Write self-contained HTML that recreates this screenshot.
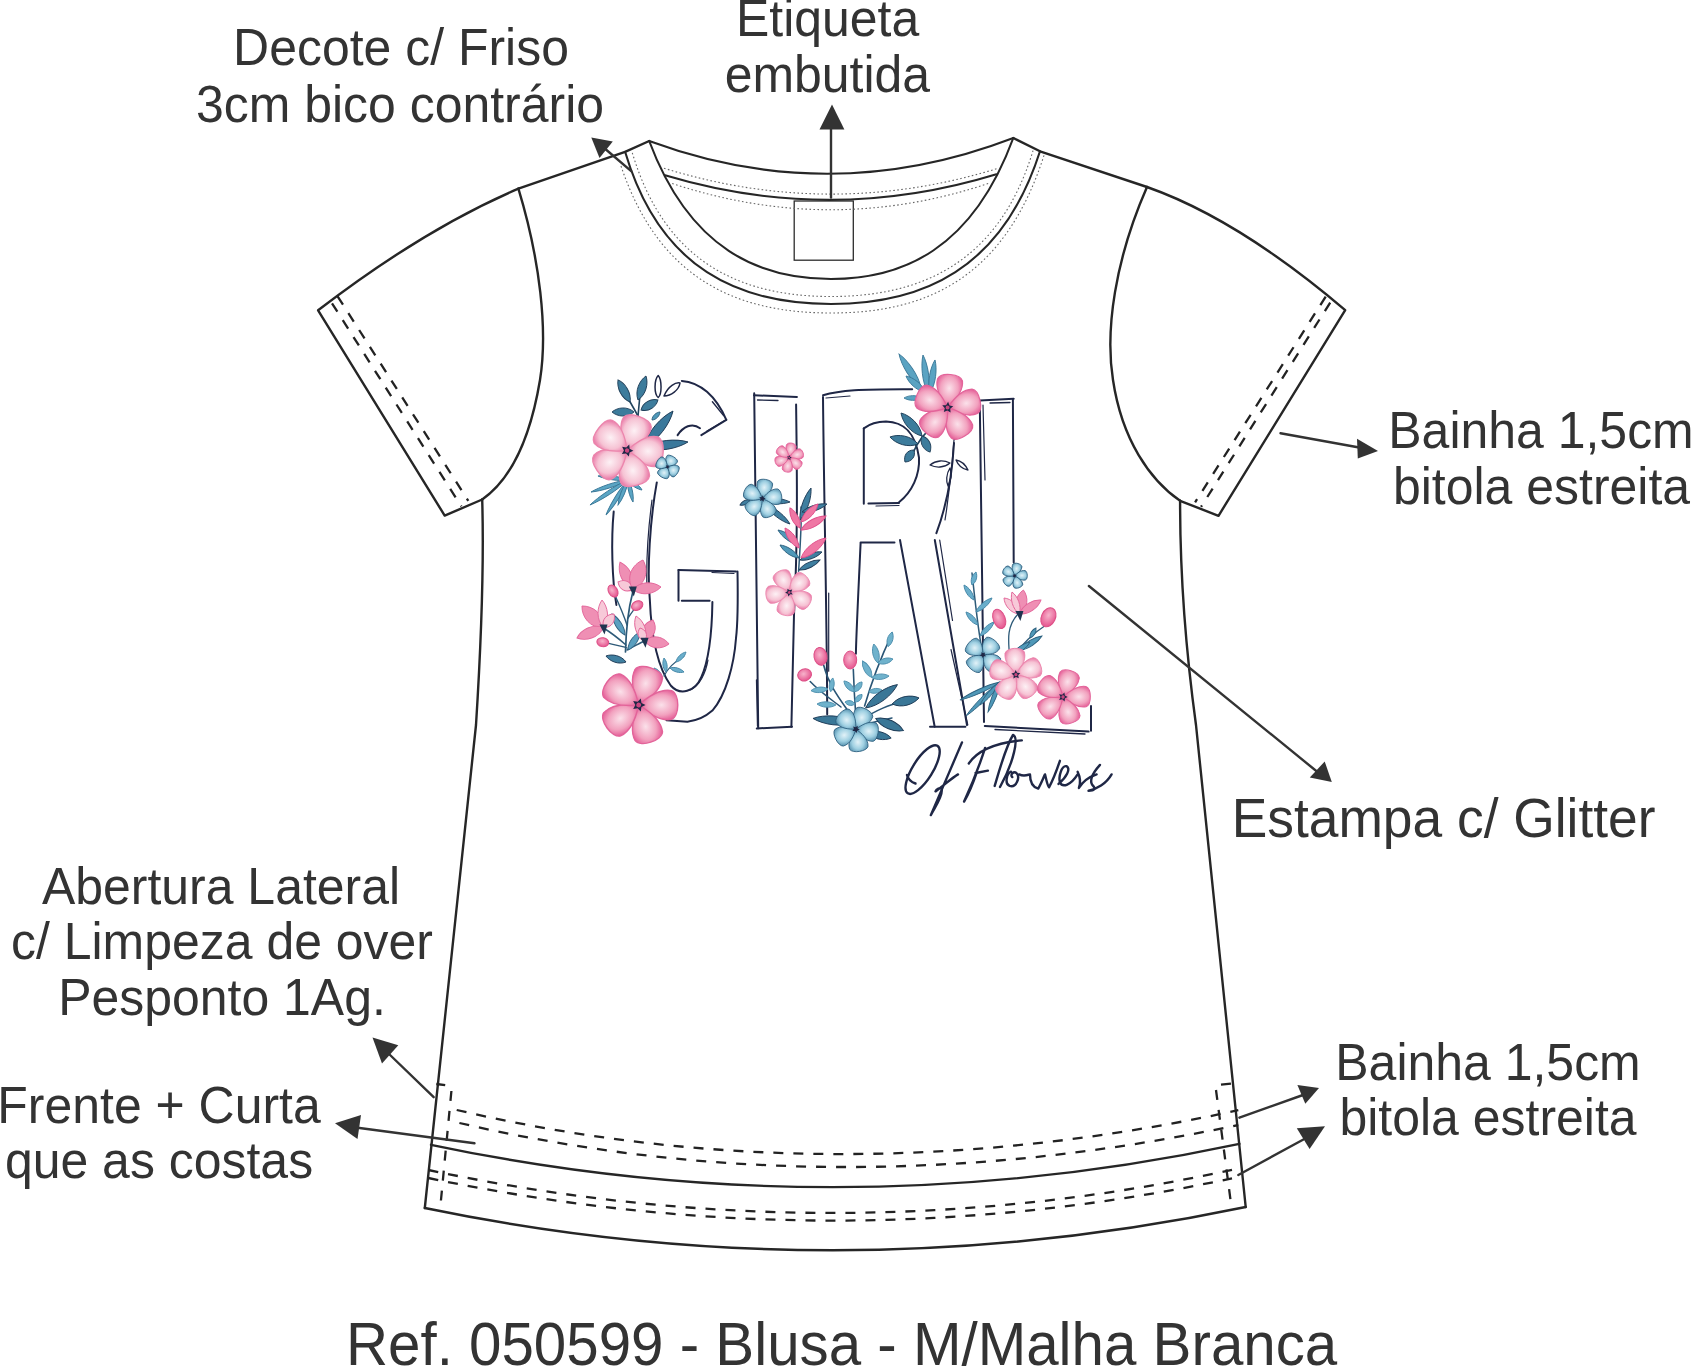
<!DOCTYPE html>
<html><head><meta charset="utf-8">
<style>
html,body{margin:0;padding:0;background:#fff;width:1692px;height:1366px;overflow:hidden}
svg{display:block}
.t{font-family:"Liberation Sans",sans-serif;font-size:50px;fill:#333}
.ln{fill:none;stroke:#262626;stroke-width:2.4;stroke-linecap:round;stroke-linejoin:round}
.dl{fill:none;stroke:#222;stroke-width:2.3;stroke-dasharray:10 10}
.dt{fill:none;stroke:#666;stroke-width:1.1;stroke-dasharray:1.6 2.4}
.ar{fill:#333;stroke:none}
.nv{fill:none;stroke:#1f2848;stroke-width:1.8;stroke-linecap:round}
</style></head>
<body>
<svg width="1692" height="1366" viewBox="0 0 1692 1366">
<!-- TEXT -->
<g class="t" text-anchor="middle">
<text transform="translate(401,65.3) scale(0.972,1)" style="font-size:51.4px">Decote c/ Friso</text>
<text transform="translate(400,121.5) scale(0.972,1)" style="font-size:51.4px">3cm bico contrário</text>
<text transform="translate(827.6,35.6) scale(0.972,1)" style="font-size:51.4px">Etiqueta</text>
<text transform="translate(827.4,91.9) scale(0.972,1)" style="font-size:51.4px">embutida</text>
<text transform="translate(1541,448.2) scale(0.972,1)" style="font-size:51.4px">Bainha 1,5cm</text>
<text transform="translate(1541.5,504.3) scale(0.972,1)" style="font-size:51.4px">bitola estreita</text>
<text transform="translate(221,903.5) scale(0.972,1)" style="font-size:51.4px">Abertura Lateral</text>
<text transform="translate(222,959.3) scale(0.972,1)" style="font-size:51.4px">c/ Limpeza de over</text>
<text transform="translate(222,1015) scale(0.972,1)" style="font-size:51.4px">Pesponto 1Ag.</text>
<text transform="translate(159,1122.6) scale(0.972,1)" style="font-size:51.4px">Frente + Curta</text>
<text transform="translate(159,1178.3) scale(0.972,1)" style="font-size:51.4px">que as costas</text>
<text transform="translate(1488,1079.5) scale(0.972,1)" style="font-size:51.4px">Bainha 1,5cm</text>
<text transform="translate(1488,1135.2) scale(0.972,1)" style="font-size:51.4px">bitola estreita</text>
<text transform="translate(1443.6,836.9) scale(0.975,1)" style="font-size:54.7px">Estampa c/ Glitter</text>
<text transform="translate(841.6,1364.6) scale(0.948,1)" style="font-size:61.5px">Ref. 050599 - Blusa - M/Malha Branca</text>
</g>

<!-- SHIRT OUTLINE -->
<g class="ln">
<!-- shoulders -->
<path d="M518.4,188.7 L625.1,151.8 L649.2,141"/>
<path d="M1013.3,138 L1040,151.3 L1147,187"/>
<!-- left sleeve -->
<path d="M518.4,188.7 Q424,229 318.1,310.3 L444.7,515.6 L482.2,499.5"/>
<path d="M518.4,188.7 C540,260 548,330 540,380 C530,440 510,480 482.2,499.5"/>
<!-- right sleeve -->
<path d="M1147,187 Q1238,219 1345.2,310.1 L1218.5,515.8 L1180.1,500.8"/>
<path d="M1147,187 C1115,260 1105,330 1113,380 C1122,440 1150,480 1180.1,500.8"/>
<!-- body sides -->
<path d="M482.2,499.5 C484,560 482,630 476,725 L424.8,1208"/>
<path d="M1180.1,500.8 C1180,560 1183,630 1196,725 L1245.7,1207"/>
<!-- hems -->
<path d="M431,1144.8 Q835,1230 1239.4,1143.8"/>
<path d="M424.8,1208 Q835,1293 1245.7,1207"/>
</g>
<!-- neckline -->
<g class="ln" style="stroke-width:2.1">
<path d="M649.2,141 Q831,208 1013.3,138"/>
<path d="M649.2,141 C690,250 760,279 831,279 C902,279 972,250 1013.3,138"/>
<path d="M625.1,151.8 C660,270 740,304 831,304 C922,304 1002,270 1040,151.3"/>
<path d="M665,175.3 Q831,225 996.4,174.3"/>
</g>
<rect x="794.2" y="201" width="59.1" height="59.2" fill="none" stroke="#2c2c2c" stroke-width="1.3"/>

<!-- dotted neckline -->
<g class="dt">
<path d="M632.3,152.8 C666,266 745,296.5 831,296.5 C917,296.5 998,266 1033,150.7"/>
<path d="M621,166 C660,282 740,313 831,313 C922,313 1004,282 1044.5,153.8"/>
<path d="M664,168.2 Q831,220 998.4,168.2"/>
<path d="M672.2,183.5 Q831,236 988.2,183.5"/>
</g>

<!-- dashed stitching -->
<g class="dl">
<path d="M332,303.3 L461.4,506.4"/>
<path d="M337.6,296.3 L468.3,500.8"/>
<path d="M1325.7,296.6 L1195.1,502.3"/>
<path d="M1330.2,302.6 L1201.1,506.8"/>
<path d="M456.7,1110 Q835,1198 1238.3,1110.2"/>
<path d="M459.4,1123 Q835,1210 1238.3,1125"/>
<path d="M428.4,1170 Q835,1256 1232,1169.8"/>
<path d="M428.4,1178 Q835,1263 1232,1178.3"/>
<path d="M451.4,1091 L440.8,1201.8"/>
<path d="M1216,1090 L1230.9,1202.8"/>
<path d="M436.3,1084 L445.2,1085.2"/>
<path d="M1221,1084.7 L1232,1083.6"/>
</g>

<!-- ARROWS -->
<g class="ln" style="stroke:#333;stroke-width:2.4">
<path d="M631.2,171.2 L603,147"/>
<path d="M831,197.5 L831,126"/>
<path d="M1280.5,433.2 L1362,448"/>
<path d="M1088.9,586 L1320,774"/>
<path d="M433.7,1097.2 L388,1053"/>
<path d="M474.5,1143.3 L352,1127"/>
<path d="M1239.4,1117.7 L1303,1095"/>
<path d="M1238.3,1175 L1308,1137"/>
</g>
<g class="ar">
<polygon points="591.3,137.4 612.8,141.5 599.5,157.9"/>
<polygon points="832,104.5 819.5,129.5 844.4,129.5"/>
<polygon points="1378,451 1357,438.7 1357.8,458.6"/>
<polygon points="1331.8,782 1309.8,777.4 1324.7,761.5"/>
<polygon points="372.5,1037.6 398.3,1045.2 382,1063.4"/>
<polygon points="335,1123.2 361,1115 357.5,1139"/>
<polygon points="1319,1087.9 1297.4,1085.1 1305.3,1103.8"/>
<polygon points="1325,1126.2 1296.8,1128.3 1309.6,1149"/>
</g>

<!-- GRAPHIC -->
<g id="graphic">
<defs>
<radialGradient id="gp" cx="0.5" cy="0.42" r="0.62"><stop offset="0" stop-color="#fbe1ea"/><stop offset="0.55" stop-color="#f2a2bf"/><stop offset="1" stop-color="#df4388"/></radialGradient>
<radialGradient id="gpl" cx="0.5" cy="0.42" r="0.62"><stop offset="0" stop-color="#fdf1f5"/><stop offset="0.55" stop-color="#f6c3d4"/><stop offset="1" stop-color="#e45893"/></radialGradient>
<radialGradient id="gb" cx="0.5" cy="0.42" r="0.62"><stop offset="0" stop-color="#e2f2f8"/><stop offset="0.5" stop-color="#9fd0e2"/><stop offset="1" stop-color="#3f7d9e"/></radialGradient>
<radialGradient id="gbud" cx="45%" cy="40%" r="65%"><stop offset="0" stop-color="#f7b3cb"/><stop offset="1" stop-color="#e44d8a"/></radialGradient>
</defs>
<path d="M681.8,380.9 C700,382 716,396 726.3,419.8" fill="none" stroke="#1f2746" stroke-width="2.0" stroke-linecap="round" stroke-linejoin="round"/>
<path d="M712.4,401.7 L723.6,415.6" fill="none" stroke="#1f2746" stroke-width="1.4" stroke-linecap="round" stroke-linejoin="round"/>
<path d="M726.3,419.8 L701.3,435.1" fill="none" stroke="#1f2746" stroke-width="2.0" stroke-linecap="round" stroke-linejoin="round"/>
<path d="M707,431 L724,421" fill="none" stroke="#1f2746" stroke-width="1.2" stroke-linecap="round" stroke-linejoin="round"/>
<path d="M677.6,435.1 C683,427 692,422 700,428.2" fill="none" stroke="#1f2746" stroke-width="2.0" stroke-linecap="round" stroke-linejoin="round"/>
<path d="M658.2,375.5 C654,380 654,394 658.2,397.5 C662,394 662,380 658.2,375.5Z" fill="none" stroke="#1f2746" stroke-width="1.5" stroke-linecap="round" stroke-linejoin="round"/>
<path d="M664,396 C668,386 676,382 680,383 C679,390 671,396 664,396Z" fill="none" stroke="#1f2746" stroke-width="1.5" stroke-linecap="round" stroke-linejoin="round"/>
<path d="M613.7,511.6 C611,540 612,580 616.4,604.9" fill="none" stroke="#1f2746" stroke-width="2.0" stroke-linecap="round" stroke-linejoin="round"/>
<path d="M656.8,482.4 C650,520 647,570 649.8,599.3 C651,630 656,665 670.7,685.5 C680,696 695,692 701.3,677.2 C709,660 712,630 712.4,602" fill="none" stroke="#1f2746" stroke-width="2.0" stroke-linecap="round" stroke-linejoin="round"/>
<path d="M652,500 C648,530 646,560 647,590" fill="none" stroke="#1f2746" stroke-width="1.2" stroke-linecap="round" stroke-linejoin="round"/>
<path d="M690,690 C700,686 706,672 708,660" fill="none" stroke="#1f2746" stroke-width="1.2" stroke-linecap="round" stroke-linejoin="round"/>
<path d="M681.8,600.7 L709.6,600.7" fill="none" stroke="#1f2746" stroke-width="2.0" stroke-linecap="round" stroke-linejoin="round"/>
<path d="M678.5,570 L678.5,600.7" fill="none" stroke="#1f2746" stroke-width="2.0" stroke-linecap="round" stroke-linejoin="round"/>
<path d="M678.5,570 L736,571.5" fill="none" stroke="#1f2746" stroke-width="2.0" stroke-linecap="round" stroke-linejoin="round"/>
<path d="M712,572.5 L734,573.5" fill="none" stroke="#1f2746" stroke-width="1.2" stroke-linecap="round" stroke-linejoin="round"/>
<path d="M737.5,571.5 C738,600 737,630 736,638.2 C734,665 726,695 712.4,710.6 C704,718 695,721 687.4,721.7 L666.5,720.3" fill="none" stroke="#1f2746" stroke-width="2.0" stroke-linecap="round" stroke-linejoin="round"/>
<path d="M754.2,393.2 C755,480 757,600 758.2,728.3" fill="none" stroke="#1f2746" stroke-width="2.0" stroke-linecap="round" stroke-linejoin="round"/>
<path d="M756.5,680 L757.5,726" fill="none" stroke="#1f2746" stroke-width="1.3" stroke-linecap="round" stroke-linejoin="round"/>
<path d="M754,395.3 L796.9,396.9" fill="none" stroke="#1f2746" stroke-width="2.0" stroke-linecap="round" stroke-linejoin="round"/>
<path d="M757.5,400 L778,400.5" fill="none" stroke="#1f2746" stroke-width="1.3" stroke-linecap="round" stroke-linejoin="round"/>
<path d="M796.1,404.6 C797,470 798,540 794,614.7 L791.4,726.8" fill="none" stroke="#1f2746" stroke-width="2.0" stroke-linecap="round" stroke-linejoin="round"/>
<path d="M756.8,728.4 L792,726.8" fill="none" stroke="#1f2746" stroke-width="2.0" stroke-linecap="round" stroke-linejoin="round"/>
<path d="M823,395.3 C840,390 860,389 912.2,389.2" fill="none" stroke="#1f2746" stroke-width="2.0" stroke-linecap="round" stroke-linejoin="round"/>
<path d="M826,398 L850,396" fill="none" stroke="#1f2746" stroke-width="1.2" stroke-linecap="round" stroke-linejoin="round"/>
<path d="M823,397 C824,500 827,620 827.2,714.3" fill="none" stroke="#1f2746" stroke-width="2.0" stroke-linecap="round" stroke-linejoin="round"/>
<path d="M828.7,593 L828.7,671.2" fill="none" stroke="#1f2746" stroke-width="1.2" stroke-linecap="round" stroke-linejoin="round"/>
<path d="M954,443 C952,480 945,510 936.4,533.2" fill="none" stroke="#1f2746" stroke-width="2.0" stroke-linecap="round" stroke-linejoin="round"/>
<path d="M863.8,428.4 L863.8,503.7" fill="none" stroke="#1f2746" stroke-width="2.0" stroke-linecap="round" stroke-linejoin="round"/>
<path d="M863.8,428.4 C872,422 880,421.5 886,421.5 C902,422 915,430 919,457.6 C920,475 912,492 899,502.2" fill="none" stroke="#1f2746" stroke-width="2.0" stroke-linecap="round" stroke-linejoin="round"/>
<path d="M868.4,503.4 L899,503" fill="none" stroke="#1f2746" stroke-width="2.0" stroke-linecap="round" stroke-linejoin="round"/>
<path d="M876,506 L899,505.5" fill="none" stroke="#1f2746" stroke-width="1.2" stroke-linecap="round" stroke-linejoin="round"/>
<path d="M860.6,542.4 L894.5,542.4" fill="none" stroke="#1f2746" stroke-width="2.0" stroke-linecap="round" stroke-linejoin="round"/>
<path d="M860.6,543.2 C858,600 856,640 855.9,653.8" fill="none" stroke="#1f2746" stroke-width="2.0" stroke-linecap="round" stroke-linejoin="round"/>
<path d="M900,540 L934.7,726.8" fill="none" stroke="#1f2746" stroke-width="2.0" stroke-linecap="round" stroke-linejoin="round"/>
<path d="M934.8,540 L967,725" fill="none" stroke="#1f2746" stroke-width="2.0" stroke-linecap="round" stroke-linejoin="round"/>
<path d="M939.7,540 L952.5,620.5" fill="none" stroke="#1f2746" stroke-width="1.2" stroke-linecap="round" stroke-linejoin="round"/>
<path d="M951,649.5 L967.8,725" fill="none" stroke="#1f2746" stroke-width="1.2" stroke-linecap="round" stroke-linejoin="round"/>
<path d="M930,726.8 L965.4,726.8" fill="none" stroke="#1f2746" stroke-width="2.0" stroke-linecap="round" stroke-linejoin="round"/>
<path d="M979.8,401.2 C981,520 983,640 984,722" fill="none" stroke="#1f2746" stroke-width="2.0" stroke-linecap="round" stroke-linejoin="round"/>
<path d="M983,405 L985,480" fill="none" stroke="#1f2746" stroke-width="1.2" stroke-linecap="round" stroke-linejoin="round"/>
<path d="M979.8,400.4 L1013.7,398.8" fill="none" stroke="#1f2746" stroke-width="2.0" stroke-linecap="round" stroke-linejoin="round"/>
<path d="M990,403 L1010,402.5" fill="none" stroke="#1f2746" stroke-width="1.3" stroke-linecap="round" stroke-linejoin="round"/>
<path d="M1012.9,399.6 C1013.5,460 1013.7,520 1013.7,562.5" fill="none" stroke="#1f2746" stroke-width="2.0" stroke-linecap="round" stroke-linejoin="round"/>
<path d="M984.8,726 L1088.6,731.6" fill="none" stroke="#1f2746" stroke-width="2.0" stroke-linecap="round" stroke-linejoin="round"/>
<path d="M995,729.5 L1085,734" fill="none" stroke="#1f2746" stroke-width="1.3" stroke-linecap="round" stroke-linejoin="round"/>
<path d="M1091,705.9 L1091,730.8" fill="none" stroke="#1f2746" stroke-width="2.0" stroke-linecap="round" stroke-linejoin="round"/>
<g fill="none" stroke="#1f2746" stroke-width="2.4" stroke-linecap="round" stroke-linejoin="round">
<ellipse cx="922.6" cy="769.6" rx="28" ry="10" transform="rotate(-58 922.6 769.6)"/>
<path d="M915.5,783.5 C911,782 908,779 907,775"/>
<path d="M 962.0,742.4 C 952.5,764.9 938.9,796.1 930.8,815.1 C 934.9,807.0 943.0,796.1 941.7,789.3 C 940.3,786.6 936.2,789.3 935.5,791.4 C 944.4,785.2 951.2,778.4 958.0,774.4"/>
<path d="M 968.8,763.5 C 977.0,751.3 993.3,743.1 1021.8,740.4 M 985.1,747.9 C 979.7,764.9 971.6,785.2 964.1,801.6 C 967.5,796.1 972.9,783.9 977.0,771.7 M 975.6,773.0 L 987.9,770.6"/>
<path d="M 994.7,785.9 C 1000,768 1006,746 1013,735 C 1019,737 1014,762 1000,787"/>
<path d="M 1011.0,771.7 C 1006.9,773.0 1004.2,783.9 1009.6,785.9 C 1016.4,788.0 1020.5,777.1 1016.4,773.0 C 1013.7,771.0 1009.6,774.4 1012.3,777.1"/>
<path d="M 1019.1,774.4 C 1024.6,777.1 1028.6,774.4 1030.0,774.4 C 1030.0,779.8 1031.4,786.6 1038.2,788.6 C 1040.9,783.9 1043.6,777.1 1045.0,774.4 C 1046.3,779.8 1047.7,786.6 1049.0,787.3 C 1053.1,779.8 1057.2,768.9 1059.9,760.8"/>
<path d="M 1058.5,783.9 C 1066.7,777.1 1070.8,768.9 1066.7,766.2 C 1061.3,764.9 1058.5,777.1 1059.9,782.5 C 1062.6,788.0 1070.8,785.2 1077.6,774.4"/>
<path d="M 1077.6,771.7 C 1080.3,777.1 1080.3,783.9 1078.9,788.0 C 1083.0,781.2 1088.5,777.1 1096.6,774.4"/>
<path d="M 1100.0,764.9 C 1093.9,771.7 1088.5,779.8 1092.5,785.2 C 1096.6,789.3 1093.9,790.7 1088.5,790.7 C 1096.6,789.3 1106.1,783.9 1111.6,774.4"/>
</g>
<path d="M638,416 C632,405 626,395 621,386" fill="none" stroke="#22445e" stroke-width="1.6" stroke-linecap="round"/>
<path d="M638,416 C639,405 640,395 641,384" fill="none" stroke="#22445e" stroke-width="1.6" stroke-linecap="round"/>
<path transform="translate(630.0,402.0) rotate(-118.6)" d="M0,0 C7.5,-6.0 18.8,-4.8 25.1,0 C18.8,4.8 7.5,6.0 0,0Z" fill="#3d7c9c" stroke="#20405a" stroke-width="0.9"/>
<path transform="translate(638.0,400.0) rotate(-71.6)" d="M0,0 C7.6,-6.0 19.0,-4.8 25.3,0 C19.0,4.8 7.6,6.0 0,0Z" fill="#3d7c9c" stroke="#20405a" stroke-width="0.9"/>
<path transform="translate(634.0,412.0) rotate(180.0)" d="M0,0 C6.6,-6.0 16.5,-4.8 22.0,0 C16.5,4.8 6.6,6.0 0,0Z" fill="#3d7c9c" stroke="#20405a" stroke-width="0.9"/>
<path transform="translate(641.0,410.0) rotate(-30.5)" d="M0,0 C5.9,-6.0 14.8,-4.8 19.7,0 C14.8,4.8 5.9,6.0 0,0Z" fill="#3d7c9c" stroke="#20405a" stroke-width="0.9"/>
<path transform="translate(644.0,447.0) rotate(-51.1)" d="M0,0 C13.9,-7.0 34.7,-5.6 46.2,0 C34.7,5.6 13.9,7.0 0,0Z" fill="#3a789b" stroke="#1f3b56" stroke-width="0.9"/>
<path transform="translate(644.0,448.0) rotate(-7.8)" d="M0,0 C13.3,-6.5 33.3,-5.2 44.4,0 C33.3,5.2 13.3,6.5 0,0Z" fill="#3a789b" stroke="#1f3b56" stroke-width="0.9"/>
<path transform="translate(652.0,420.0) rotate(-45.0)" d="M0,0 C3.4,-3.0 8.5,-2.4 11.3,0 C8.5,2.4 3.4,3.0 0,0Z" fill="#4f98b8" stroke="#2d617f" stroke-width="0.9"/>
<path transform="translate(628.0,480.0) rotate(162.0)" d="M0,0 C11.7,-2.8 29.2,-2.2 38.9,0 C29.2,2.2 11.7,2.8 0,0Z" fill="#5aa5c4" stroke="#3a7898" stroke-width="0.9"/>
<path transform="translate(628.0,480.0) rotate(146.7)" d="M0,0 C13.6,-2.8 34.1,-2.2 45.5,0 C34.1,2.2 13.6,2.8 0,0Z" fill="#5aa5c4" stroke="#3a7898" stroke-width="0.9"/>
<path transform="translate(628.0,480.0) rotate(122.2)" d="M0,0 C12.4,-2.8 31.0,-2.2 41.3,0 C31.0,2.2 12.4,2.8 0,0Z" fill="#5aa5c4" stroke="#3a7898" stroke-width="0.9"/>
<path transform="translate(628.0,480.0) rotate(111.8)" d="M0,0 C8.1,-2.8 20.2,-2.2 26.9,0 C20.2,2.2 8.1,2.8 0,0Z" fill="#5aa5c4" stroke="#3a7898" stroke-width="0.9"/>
<path transform="translate(628.0,480.0) rotate(77.2)" d="M0,0 C6.8,-2.8 16.9,-2.2 22.6,0 C16.9,2.2 6.8,2.8 0,0Z" fill="#5aa5c4" stroke="#3a7898" stroke-width="0.9"/>
<path transform="translate(628.0,480.0) rotate(35.5)" d="M0,0 C5.2,-2.8 12.9,-2.2 17.2,0 C12.9,2.2 5.2,2.8 0,0Z" fill="#5aa5c4" stroke="#3a7898" stroke-width="0.9"/>
<path transform="translate(628.0,480.0) rotate(-172.4)" d="M0,0 C9.1,-2.8 22.7,-2.2 30.3,0 C22.7,2.2 9.1,2.8 0,0Z" fill="#5aa5c4" stroke="#3a7898" stroke-width="0.9"/>
<g transform="translate(627.1,450.5) rotate(20)">
<path d="M0,0 C-7.3,-7.4 -17.1,-18.5 -14.7,-30.3 C-11.4,-38.1 11.4,-38.1 14.7,-30.3 C17.1,-18.5 7.3,-7.4 0,0Z" transform="rotate(0.0)" fill="url(#gpl)" stroke="#ec86ad" stroke-width="1.3"/>
<path d="M0,0 C-7.3,-7.4 -17.1,-18.5 -14.7,-30.3 C-11.4,-38.1 11.4,-38.1 14.7,-30.3 C17.1,-18.5 7.3,-7.4 0,0Z" transform="rotate(72.0)" fill="url(#gpl)" stroke="#ec86ad" stroke-width="1.3"/>
<path d="M0,0 C-7.3,-7.4 -17.1,-18.5 -14.7,-30.3 C-11.4,-38.1 11.4,-38.1 14.7,-30.3 C17.1,-18.5 7.3,-7.4 0,0Z" transform="rotate(144.0)" fill="url(#gpl)" stroke="#ec86ad" stroke-width="1.3"/>
<path d="M0,0 C-7.3,-7.4 -17.1,-18.5 -14.7,-30.3 C-11.4,-38.1 11.4,-38.1 14.7,-30.3 C17.1,-18.5 7.3,-7.4 0,0Z" transform="rotate(216.0)" fill="url(#gpl)" stroke="#ec86ad" stroke-width="1.3"/>
<path d="M0,0 C-7.3,-7.4 -17.1,-18.5 -14.7,-30.3 C-11.4,-38.1 11.4,-38.1 14.7,-30.3 C17.1,-18.5 7.3,-7.4 0,0Z" transform="rotate(288.0)" fill="url(#gpl)" stroke="#ec86ad" stroke-width="1.3"/>
<polygon points="0.0,-6.3 1.8,-2.5 6.0,-1.9 3.0,1.0 3.7,5.1 0.0,3.1 -3.7,5.1 -3.0,1.0 -6.0,-1.9 -1.8,-2.5" fill="#1f2746"/>
<circle r="2.2" fill="#c9457f"/>
</g>
<g transform="translate(667.5,466.9) rotate(30)">
<path d="M0,0 C-3.0,-2.4 -6.9,-6.0 -5.9,-9.8 C-4.6,-12.4 4.6,-12.4 5.9,-9.8 C6.9,-6.0 3.0,-2.4 0,0Z" transform="rotate(0.0)" fill="url(#gb)" stroke="#2c5e7e" stroke-width="0.8"/>
<path d="M0,0 C-3.0,-2.4 -6.9,-6.0 -5.9,-9.8 C-4.6,-12.4 4.6,-12.4 5.9,-9.8 C6.9,-6.0 3.0,-2.4 0,0Z" transform="rotate(90.0)" fill="url(#gb)" stroke="#2c5e7e" stroke-width="0.8"/>
<path d="M0,0 C-3.0,-2.4 -6.9,-6.0 -5.9,-9.8 C-4.6,-12.4 4.6,-12.4 5.9,-9.8 C6.9,-6.0 3.0,-2.4 0,0Z" transform="rotate(180.0)" fill="url(#gb)" stroke="#2c5e7e" stroke-width="0.8"/>
<path d="M0,0 C-3.0,-2.4 -6.9,-6.0 -5.9,-9.8 C-4.6,-12.4 4.6,-12.4 5.9,-9.8 C6.9,-6.0 3.0,-2.4 0,0Z" transform="rotate(270.0)" fill="url(#gb)" stroke="#2c5e7e" stroke-width="0.8"/>
<polygon points="0.0,-2.2 0.6,-0.9 2.1,-0.7 1.0,0.3 1.3,1.8 0.0,1.1 -1.3,1.8 -1.0,0.3 -2.1,-0.7 -0.6,-0.9" fill="#1f2746"/>
</g>
<path d="M625.5,652 C626,630 628,610 632.8,592" fill="none" stroke="#2d5a78" stroke-width="1.7" stroke-linecap="round"/>
<path d="M627,625 C622,610 616,598 613,591" fill="none" stroke="#2d5a78" stroke-width="1.4" stroke-linecap="round"/>
<path d="M628,618 C632,612 635,608 637.2,605.6" fill="none" stroke="#2d5a78" stroke-width="1.4" stroke-linecap="round"/>
<path d="M626,645 C618,638 610,632 603.5,628" fill="none" stroke="#2d5a78" stroke-width="1.5" stroke-linecap="round"/>
<path d="M627,648 C622,646 610,644 602.8,642.2" fill="none" stroke="#2d5a78" stroke-width="1.3" stroke-linecap="round"/>
<path d="M627,650 C635,646 640,643 644.5,641" fill="none" stroke="#2d5a78" stroke-width="1.5" stroke-linecap="round"/>
<path transform="translate(625.0,635.0) rotate(-121.8)" d="M0,0 C7.4,-4.5 18.5,-3.6 24.7,0 C18.5,3.6 7.4,4.5 0,0Z" fill="#5a9fbf" stroke="#2d5f7e" stroke-width="0.9"/>
<path transform="translate(628.0,650.0) rotate(-56.3)" d="M0,0 C6.5,-4.5 16.2,-3.6 21.6,0 C16.2,3.6 6.5,4.5 0,0Z" fill="#5a9fbf" stroke="#2d5f7e" stroke-width="0.9"/>
<path transform="translate(626.0,662.0) rotate(-163.3)" d="M0,0 C6.3,-5.0 15.7,-4.0 20.9,0 C15.7,4.0 6.3,5.0 0,0Z" fill="#3f7fa0" stroke="#223f5a" stroke-width="0.9"/>
<path d="M664,676 C668,668 674,662 684,656" fill="none" stroke="#2d5a78" stroke-width="1.2" stroke-linecap="round"/>
<path transform="translate(666.0,672.0) rotate(-98.1)" d="M0,0 C4.2,-3.0 10.6,-2.4 14.1,0 C10.6,2.4 4.2,3.0 0,0Z" fill="#6aaecb" stroke="#4688a8" stroke-width="0.9"/>
<path transform="translate(670.0,668.0) rotate(15.9)" d="M0,0 C4.4,-3.0 10.9,-2.4 14.6,0 C10.9,2.4 4.4,3.0 0,0Z" fill="#6aaecb" stroke="#4688a8" stroke-width="0.9"/>
<path transform="translate(676.0,662.0) rotate(-45.0)" d="M0,0 C4.2,-3.0 10.6,-2.4 14.1,0 C10.6,2.4 4.2,3.0 0,0Z" fill="#6aaecb" stroke="#4688a8" stroke-width="0.9"/>
<path transform="translate(662.0,678.0) rotate(-128.7)" d="M0,0 C3.8,-3.0 9.6,-2.4 12.8,0 C9.6,2.4 3.8,3.0 0,0Z" fill="#6aaecb" stroke="#4688a8" stroke-width="0.9"/>
<path transform="translate(632.8,589.5) rotate(-115.0)" d="M0,0 C9.1,-8.0 22.7,-6.4 30.3,0 C22.7,6.4 9.1,8.0 0,0Z" fill="#ef8fb4" stroke="#e3669a" stroke-width="0.9"/>
<path transform="translate(632.8,589.5) rotate(-153.1)" d="M0,0 C5.0,-7.0 12.4,-5.6 16.6,0 C12.4,5.6 5.0,7.0 0,0Z" fill="#f7c9d8" stroke="#e3669a" stroke-width="0.9"/>
<path transform="translate(632.8,589.5) rotate(-70.9)" d="M0,0 C9.4,-11.0 23.4,-8.8 31.2,0 C23.4,8.8 9.4,11.0 0,0Z" fill="#ef8fb4" stroke="#e3669a" stroke-width="0.9"/>
<path transform="translate(632.8,589.5) rotate(-5.1)" d="M0,0 C8.5,-8.0 21.2,-6.4 28.3,0 C21.2,6.4 8.5,8.0 0,0Z" fill="#ef8fb4" stroke="#e3669a" stroke-width="0.9"/>
<path d="M628.8,586.5 L636.8,586.5 L633.8,596.5Z" fill="#1f3550"/>
<path transform="translate(603.5,627.6) rotate(-134.9)" d="M0,0 C9.1,-10.0 22.9,-8.0 30.5,0 C22.9,8.0 9.1,10.0 0,0Z" fill="#ef8fb4" stroke="#e3669a" stroke-width="0.9"/>
<path transform="translate(603.5,627.6) rotate(-93.1)" d="M0,0 C8.3,-7.0 20.7,-5.6 27.6,0 C20.7,5.6 8.3,7.0 0,0Z" fill="#f7c9d8" stroke="#e3669a" stroke-width="0.9"/>
<path transform="translate(603.5,627.6) rotate(158.6)" d="M0,0 C8.5,-8.0 21.4,-6.4 28.5,0 C21.4,6.4 8.5,8.0 0,0Z" fill="#ef8fb4" stroke="#e3669a" stroke-width="0.9"/>
<path transform="translate(603.5,627.6) rotate(-52.3)" d="M0,0 C5.2,-7.0 12.9,-5.6 17.2,0 C12.9,5.6 5.2,7.0 0,0Z" fill="#f7c9d8" stroke="#e3669a" stroke-width="0.9"/>
<path d="M599.5,624.6 L607.5,624.6 L604.5,634.6Z" fill="#1f3550"/>
<path transform="translate(644.5,640.8) rotate(-67.8)" d="M0,0 C6.7,-9.0 16.9,-7.2 22.5,0 C16.9,7.2 6.7,9.0 0,0Z" fill="#ef8fb4" stroke="#e3669a" stroke-width="0.9"/>
<path transform="translate(644.5,640.8) rotate(-108.9)" d="M0,0 C7.9,-7.0 19.7,-5.6 26.2,0 C19.7,5.6 7.9,7.0 0,0Z" fill="#f7c9d8" stroke="#e3669a" stroke-width="0.9"/>
<path transform="translate(644.5,640.8) rotate(7.4)" d="M0,0 C7.4,-8.0 18.5,-6.4 24.7,0 C18.5,6.4 7.4,8.0 0,0Z" fill="#ef8fb4" stroke="#e3669a" stroke-width="0.9"/>
<path transform="translate(644.5,640.8) rotate(-109.4)" d="M0,0 C4.1,-6.0 10.2,-4.8 13.6,0 C10.2,4.8 4.1,6.0 0,0Z" fill="#f7c9d8" stroke="#e3669a" stroke-width="0.9"/>
<path d="M640.5,637.8 L648.5,637.8 L645.5,647.8Z" fill="#1f3550"/>
<ellipse cx="613" cy="591" rx="4.5" ry="6.5" transform="rotate(-30 613 591)" fill="url(#gbud)" stroke="#dd4f86" stroke-width="1"/>
<ellipse cx="637.2" cy="605.6" rx="6" ry="4.5" transform="rotate(-30 637.2 605.6)" fill="url(#gbud)" stroke="#dd4f86" stroke-width="1"/>
<ellipse cx="602.8" cy="642.2" rx="6" ry="4.5" transform="rotate(10 602.8 642.2)" fill="url(#gbud)" stroke="#dd4f86" stroke-width="1"/>
<g transform="translate(638.7,705.0) rotate(18)">
<path d="M0,0 C-7.2,-8.0 -16.8,-20.0 -14.4,-32.8 C-11.2,-41.2 11.2,-41.2 14.4,-32.8 C16.8,-20.0 7.2,-8.0 0,0Z" transform="rotate(0.0)" fill="url(#gp)" stroke="#e3649a" stroke-width="1.4"/>
<path d="M0,0 C-7.2,-8.0 -16.8,-20.0 -14.4,-32.8 C-11.2,-41.2 11.2,-41.2 14.4,-32.8 C16.8,-20.0 7.2,-8.0 0,0Z" transform="rotate(72.0)" fill="url(#gp)" stroke="#e3649a" stroke-width="1.4"/>
<path d="M0,0 C-7.2,-8.0 -16.8,-20.0 -14.4,-32.8 C-11.2,-41.2 11.2,-41.2 14.4,-32.8 C16.8,-20.0 7.2,-8.0 0,0Z" transform="rotate(144.0)" fill="url(#gp)" stroke="#e3649a" stroke-width="1.4"/>
<path d="M0,0 C-7.2,-8.0 -16.8,-20.0 -14.4,-32.8 C-11.2,-41.2 11.2,-41.2 14.4,-32.8 C16.8,-20.0 7.2,-8.0 0,0Z" transform="rotate(216.0)" fill="url(#gp)" stroke="#e3649a" stroke-width="1.4"/>
<path d="M0,0 C-7.2,-8.0 -16.8,-20.0 -14.4,-32.8 C-11.2,-41.2 11.2,-41.2 14.4,-32.8 C16.8,-20.0 7.2,-8.0 0,0Z" transform="rotate(288.0)" fill="url(#gp)" stroke="#e3649a" stroke-width="1.4"/>
<polygon points="0.0,-6.8 2.0,-2.8 6.5,-2.1 3.2,1.1 4.0,5.5 0.0,3.4 -4.0,5.5 -3.2,1.1 -6.5,-2.1 -2.0,-2.8" fill="#1f2746"/>
<circle r="2.4" fill="#c9457f"/>
</g>
<path d="M798.6,571.3 C800,550 802,520 801,506.9" fill="none" stroke="#2d5a78" stroke-width="1.5" stroke-linecap="round"/>
<path transform="translate(800.0,520.0) rotate(-71.0)" d="M0,0 C10.2,-4.5 25.4,-3.6 33.8,0 C25.4,3.6 10.2,4.5 0,0Z" fill="#3f7fa0" stroke="#223f5a" stroke-width="0.9"/>
<path transform="translate(802.0,512.0) rotate(-17.7)" d="M0,0 C7.9,-4.0 19.7,-3.2 26.2,0 C19.7,3.2 7.9,4.0 0,0Z" fill="#3f7fa0" stroke="#223f5a" stroke-width="0.9"/>
<path transform="translate(799.0,545.0) rotate(-144.5)" d="M0,0 C7.7,-4.0 19.4,-3.2 25.8,0 C19.4,3.2 7.7,4.0 0,0Z" fill="#4f98b8" stroke="#2d617f" stroke-width="0.9"/>
<path transform="translate(799.0,558.0) rotate(-145.6)" d="M0,0 C6.9,-4.0 17.3,-3.2 23.0,0 C17.3,3.2 6.9,4.0 0,0Z" fill="#4f98b8" stroke="#2d617f" stroke-width="0.9"/>
<path transform="translate(800.0,560.0) rotate(-20.0)" d="M0,0 C7.0,-4.0 17.6,-3.2 23.4,0 C17.6,3.2 7.0,4.0 0,0Z" fill="#3f7fa0" stroke="#223f5a" stroke-width="0.9"/>
<path transform="translate(799.0,570.0) rotate(-25.5)" d="M0,0 C7.0,-4.0 17.4,-3.2 23.3,0 C17.4,3.2 7.0,4.0 0,0Z" fill="#3f7fa0" stroke="#223f5a" stroke-width="0.9"/>
<path transform="translate(800.0,528.0) rotate(-116.6)" d="M0,0 C6.7,-5.0 16.8,-4.0 22.4,0 C16.8,4.0 6.7,5.0 0,0Z" fill="#ef77a4" stroke="#e0508b" stroke-width="0.9"/>
<path transform="translate(801.0,522.0) rotate(-46.6)" d="M0,0 C7.4,-5.0 18.6,-4.0 24.8,0 C18.6,4.0 7.4,5.0 0,0Z" fill="#ef77a4" stroke="#e0508b" stroke-width="0.9"/>
<path transform="translate(799.0,548.0) rotate(-125.0)" d="M0,0 C7.3,-5.0 18.3,-4.0 24.4,0 C18.3,4.0 7.3,5.0 0,0Z" fill="#ef77a4" stroke="#e0508b" stroke-width="0.9"/>
<path transform="translate(801.0,530.0) rotate(-29.2)" d="M0,0 C8.6,-5.5 21.5,-4.4 28.7,0 C21.5,4.4 8.6,5.5 0,0Z" fill="#ef77a4" stroke="#e0508b" stroke-width="0.9"/>
<path transform="translate(801.0,558.0) rotate(-38.7)" d="M0,0 C9.6,-6.0 24.0,-4.8 32.0,0 C24.0,4.8 9.6,6.0 0,0Z" fill="#ef77a4" stroke="#e0508b" stroke-width="0.9"/>
<path transform="translate(762.0,500.0) rotate(4.1)" d="M0,0 C8.4,-4.0 21.1,-3.2 28.1,0 C21.1,3.2 8.4,4.0 0,0Z" fill="#3f7fa0" stroke="#223f5a" stroke-width="0.9"/>
<path transform="translate(766.0,505.0) rotate(38.4)" d="M0,0 C9.2,-4.0 23.0,-3.2 30.6,0 C23.0,3.2 9.2,4.0 0,0Z" fill="#3f7fa0" stroke="#223f5a" stroke-width="0.9"/>
<path transform="translate(750.0,500.0) rotate(153.4)" d="M0,0 C3.4,-3.0 8.4,-2.4 11.2,0 C8.4,2.4 3.4,3.0 0,0Z" fill="#3f7fa0" stroke="#223f5a" stroke-width="0.9"/>
<g transform="translate(762.3,498.7) rotate(10)">
<path d="M0,0 C-3.8,-4.0 -8.8,-10.0 -7.6,-16.4 C-5.9,-20.6 5.9,-20.6 7.6,-16.4 C8.8,-10.0 3.8,-4.0 0,0Z" transform="rotate(0.0)" fill="url(#gb)" stroke="#2c5e7e" stroke-width="0.8"/>
<path d="M0,0 C-3.8,-4.0 -8.8,-10.0 -7.6,-16.4 C-5.9,-20.6 5.9,-20.6 7.6,-16.4 C8.8,-10.0 3.8,-4.0 0,0Z" transform="rotate(72.0)" fill="url(#gb)" stroke="#2c5e7e" stroke-width="0.8"/>
<path d="M0,0 C-3.8,-4.0 -8.8,-10.0 -7.6,-16.4 C-5.9,-20.6 5.9,-20.6 7.6,-16.4 C8.8,-10.0 3.8,-4.0 0,0Z" transform="rotate(144.0)" fill="url(#gb)" stroke="#2c5e7e" stroke-width="0.8"/>
<path d="M0,0 C-3.8,-4.0 -8.8,-10.0 -7.6,-16.4 C-5.9,-20.6 5.9,-20.6 7.6,-16.4 C8.8,-10.0 3.8,-4.0 0,0Z" transform="rotate(216.0)" fill="url(#gb)" stroke="#2c5e7e" stroke-width="0.8"/>
<path d="M0,0 C-3.8,-4.0 -8.8,-10.0 -7.6,-16.4 C-5.9,-20.6 5.9,-20.6 7.6,-16.4 C8.8,-10.0 3.8,-4.0 0,0Z" transform="rotate(288.0)" fill="url(#gb)" stroke="#2c5e7e" stroke-width="0.8"/>
<polygon points="0.0,-3.4 1.0,-1.4 3.2,-1.1 1.6,0.5 2.0,2.8 0.0,1.7 -2.0,2.8 -1.6,0.5 -3.2,-1.1 -1.0,-1.4" fill="#1f2746"/>
</g>
<g transform="translate(789.2,457.6) rotate(10)">
<path d="M0,0 C-2.4,-3.0 -5.7,-7.5 -4.9,-12.3 C-3.8,-15.5 3.8,-15.5 4.9,-12.3 C5.7,-7.5 2.4,-3.0 0,0Z" transform="rotate(0.0)" fill="url(#gp)" stroke="#e3649a" stroke-width="0.8"/>
<path d="M0,0 C-2.4,-3.0 -5.7,-7.5 -4.9,-12.3 C-3.8,-15.5 3.8,-15.5 4.9,-12.3 C5.7,-7.5 2.4,-3.0 0,0Z" transform="rotate(60.0)" fill="url(#gp)" stroke="#e3649a" stroke-width="0.8"/>
<path d="M0,0 C-2.4,-3.0 -5.7,-7.5 -4.9,-12.3 C-3.8,-15.5 3.8,-15.5 4.9,-12.3 C5.7,-7.5 2.4,-3.0 0,0Z" transform="rotate(120.0)" fill="url(#gp)" stroke="#e3649a" stroke-width="0.8"/>
<path d="M0,0 C-2.4,-3.0 -5.7,-7.5 -4.9,-12.3 C-3.8,-15.5 3.8,-15.5 4.9,-12.3 C5.7,-7.5 2.4,-3.0 0,0Z" transform="rotate(180.0)" fill="url(#gp)" stroke="#e3649a" stroke-width="0.8"/>
<path d="M0,0 C-2.4,-3.0 -5.7,-7.5 -4.9,-12.3 C-3.8,-15.5 3.8,-15.5 4.9,-12.3 C5.7,-7.5 2.4,-3.0 0,0Z" transform="rotate(240.0)" fill="url(#gp)" stroke="#e3649a" stroke-width="0.8"/>
<path d="M0,0 C-2.4,-3.0 -5.7,-7.5 -4.9,-12.3 C-3.8,-15.5 3.8,-15.5 4.9,-12.3 C5.7,-7.5 2.4,-3.0 0,0Z" transform="rotate(300.0)" fill="url(#gp)" stroke="#e3649a" stroke-width="0.8"/>
<polygon points="0.0,-2.6 0.7,-1.0 2.4,-0.8 1.2,0.4 1.5,2.1 0.0,1.3 -1.5,2.1 -1.2,0.4 -2.4,-0.8 -0.7,-1.0" fill="#1f2746"/>
<circle r="0.9" fill="#c9457f"/>
</g>
<g transform="translate(789.2,592.4) rotate(-25)">
<path d="M0,0 C-4.3,-4.8 -10.1,-12.0 -8.6,-19.7 C-6.7,-24.7 6.7,-24.7 8.6,-19.7 C10.1,-12.0 4.3,-4.8 0,0Z" transform="rotate(0.0)" fill="url(#gpl)" stroke="#ec86ad" stroke-width="0.8"/>
<path d="M0,0 C-4.3,-4.8 -10.1,-12.0 -8.6,-19.7 C-6.7,-24.7 6.7,-24.7 8.6,-19.7 C10.1,-12.0 4.3,-4.8 0,0Z" transform="rotate(72.0)" fill="url(#gpl)" stroke="#ec86ad" stroke-width="0.8"/>
<path d="M0,0 C-4.3,-4.8 -10.1,-12.0 -8.6,-19.7 C-6.7,-24.7 6.7,-24.7 8.6,-19.7 C10.1,-12.0 4.3,-4.8 0,0Z" transform="rotate(144.0)" fill="url(#gpl)" stroke="#ec86ad" stroke-width="0.8"/>
<path d="M0,0 C-4.3,-4.8 -10.1,-12.0 -8.6,-19.7 C-6.7,-24.7 6.7,-24.7 8.6,-19.7 C10.1,-12.0 4.3,-4.8 0,0Z" transform="rotate(216.0)" fill="url(#gpl)" stroke="#ec86ad" stroke-width="0.8"/>
<path d="M0,0 C-4.3,-4.8 -10.1,-12.0 -8.6,-19.7 C-6.7,-24.7 6.7,-24.7 8.6,-19.7 C10.1,-12.0 4.3,-4.8 0,0Z" transform="rotate(288.0)" fill="url(#gpl)" stroke="#ec86ad" stroke-width="0.8"/>
<polygon points="0.0,-4.1 1.2,-1.7 3.9,-1.3 1.9,0.6 2.4,3.3 0.0,2.0 -2.4,3.3 -1.9,0.6 -3.9,-1.3 -1.2,-1.7" fill="#1f2746"/>
<circle r="1.4" fill="#c9457f"/>
</g>
<path d="M823.6,665 C830,690 845,705 855.9,722.5" fill="none" stroke="#2a5575" stroke-width="1.6" stroke-linecap="round"/>
<path d="M853.3,669.2 C854,690 855,705 855.9,717.4" fill="none" stroke="#2a5575" stroke-width="1.6" stroke-linecap="round"/>
<path d="M810.2,681.5 C820,692 832,700 841,707" fill="none" stroke="#2a5575" stroke-width="1.5" stroke-linecap="round"/>
<path d="M864.6,706 C872,680 882,655 892.2,633.3" fill="none" stroke="#2a5575" stroke-width="1.6" stroke-linecap="round"/>
<path d="M862,720 C875,710 890,705 906,700" fill="none" stroke="#2a5575" stroke-width="1.5" stroke-linecap="round"/>
<path d="M862,726 C872,722 882,720 892,718" fill="none" stroke="#2a5575" stroke-width="1.4" stroke-linecap="round"/>
<path transform="translate(888.0,646.6) rotate(-74.0)" d="M0,0 C4.6,-4.0 11.4,-3.2 15.2,0 C11.4,3.2 4.6,4.0 0,0Z" fill="#6fb2cc" stroke="#4d8fae" stroke-width="0.9"/>
<path transform="translate(877.9,663.0) rotate(-102.2)" d="M0,0 C5.8,-4.5 14.6,-3.6 19.4,0 C14.6,3.6 5.8,4.5 0,0Z" fill="#6fb2cc" stroke="#4d8fae" stroke-width="0.9"/>
<path transform="translate(877.9,663.0) rotate(-14.8)" d="M0,0 C4.7,-4.0 11.7,-3.2 15.6,0 C11.7,3.2 4.7,4.0 0,0Z" fill="#6fb2cc" stroke="#4d8fae" stroke-width="0.9"/>
<path transform="translate(871.7,677.4) rotate(-119.3)" d="M0,0 C5.6,-4.5 14.1,-3.6 18.8,0 C14.1,3.6 5.6,4.5 0,0Z" fill="#6fb2cc" stroke="#4d8fae" stroke-width="0.9"/>
<path transform="translate(871.7,677.4) rotate(-4.6)" d="M0,0 C5.2,-4.0 13.0,-3.2 17.4,0 C13.0,3.2 5.2,4.0 0,0Z" fill="#6fb2cc" stroke="#4d8fae" stroke-width="0.9"/>
<path transform="translate(868.7,691.7) rotate(-7.3)" d="M0,0 C4.0,-3.5 10.1,-2.8 13.4,0 C10.1,2.8 4.0,3.5 0,0Z" fill="#6fb2cc" stroke="#4d8fae" stroke-width="0.9"/>
<path transform="translate(854.3,691.7) rotate(-133.9)" d="M0,0 C4.5,-4.0 11.1,-3.2 14.9,0 C11.1,3.2 4.5,4.0 0,0Z" fill="#6fb2cc" stroke="#4d8fae" stroke-width="0.9"/>
<path transform="translate(854.3,691.7) rotate(-51.6)" d="M0,0 C3.7,-4.0 9.3,-3.2 12.4,0 C9.3,3.2 3.7,4.0 0,0Z" fill="#6fb2cc" stroke="#4d8fae" stroke-width="0.9"/>
<path transform="translate(854.8,704.0) rotate(-168.5)" d="M0,0 C3.0,-3.5 7.5,-2.8 10.0,0 C7.5,2.8 3.0,3.5 0,0Z" fill="#6fb2cc" stroke="#4d8fae" stroke-width="0.9"/>
<path transform="translate(855.0,702.0) rotate(-47.0)" d="M0,0 C3.1,-3.5 7.7,-2.8 10.3,0 C7.7,2.8 3.1,3.5 0,0Z" fill="#6fb2cc" stroke="#4d8fae" stroke-width="0.9"/>
<path transform="translate(830.7,691.7) rotate(-81.3)" d="M0,0 C4.2,-3.5 10.4,-2.8 13.9,0 C10.4,2.8 4.2,3.5 0,0Z" fill="#6fb2cc" stroke="#4d8fae" stroke-width="0.9"/>
<path transform="translate(828.0,689.0) rotate(174.3)" d="M0,0 C5.1,-4.0 12.8,-3.2 17.1,0 C12.8,3.2 5.1,4.0 0,0Z" fill="#6fb2cc" stroke="#4d8fae" stroke-width="0.9"/>
<path transform="translate(835.9,705.0) rotate(-177.0)" d="M0,0 C5.7,-4.0 14.2,-3.2 18.9,0 C14.2,3.2 5.7,4.0 0,0Z" fill="#6fb2cc" stroke="#4d8fae" stroke-width="0.9"/>
<path transform="translate(855.3,722.5) rotate(-174.5)" d="M0,0 C12.7,-6.5 31.9,-5.2 42.5,0 C31.9,5.2 12.7,6.5 0,0Z" fill="#3a7797" stroke="#1f3b56" stroke-width="0.9"/>
<path transform="translate(865.6,708.0) rotate(-36.3)" d="M0,0 C11.8,-6.5 29.6,-5.2 39.5,0 C29.6,5.2 11.8,6.5 0,0Z" fill="#3a7797" stroke="#1f3b56" stroke-width="0.9"/>
<path transform="translate(892.2,704.0) rotate(-12.8)" d="M0,0 C8.2,-6.5 20.6,-5.2 27.5,0 C20.6,5.2 8.2,6.5 0,0Z" fill="#3a7797" stroke="#1f3b56" stroke-width="0.9"/>
<path transform="translate(875.8,718.4) rotate(23.9)" d="M0,0 C9.1,-6.5 22.7,-5.2 30.3,0 C22.7,5.2 9.1,6.5 0,0Z" fill="#3a7797" stroke="#1f3b56" stroke-width="0.9"/>
<path transform="translate(868.0,733.0) rotate(12.2)" d="M0,0 C7.1,-5.5 17.8,-4.4 23.7,0 C17.8,4.4 7.1,5.5 0,0Z" fill="#3a7797" stroke="#1f3b56" stroke-width="0.9"/>
<g transform="translate(855.9,729.2) rotate(27)">
<path d="M0,0 C-4.7,-4.6 -10.9,-11.5 -9.3,-18.9 C-7.2,-23.7 7.2,-23.7 9.3,-18.9 C10.9,-11.5 4.7,-4.6 0,0Z" transform="rotate(0.0)" fill="url(#gb)" stroke="#2c5e7e" stroke-width="0.8"/>
<path d="M0,0 C-4.7,-4.6 -10.9,-11.5 -9.3,-18.9 C-7.2,-23.7 7.2,-23.7 9.3,-18.9 C10.9,-11.5 4.7,-4.6 0,0Z" transform="rotate(72.0)" fill="url(#gb)" stroke="#2c5e7e" stroke-width="0.8"/>
<path d="M0,0 C-4.7,-4.6 -10.9,-11.5 -9.3,-18.9 C-7.2,-23.7 7.2,-23.7 9.3,-18.9 C10.9,-11.5 4.7,-4.6 0,0Z" transform="rotate(144.0)" fill="url(#gb)" stroke="#2c5e7e" stroke-width="0.8"/>
<path d="M0,0 C-4.7,-4.6 -10.9,-11.5 -9.3,-18.9 C-7.2,-23.7 7.2,-23.7 9.3,-18.9 C10.9,-11.5 4.7,-4.6 0,0Z" transform="rotate(216.0)" fill="url(#gb)" stroke="#2c5e7e" stroke-width="0.8"/>
<path d="M0,0 C-4.7,-4.6 -10.9,-11.5 -9.3,-18.9 C-7.2,-23.7 7.2,-23.7 9.3,-18.9 C10.9,-11.5 4.7,-4.6 0,0Z" transform="rotate(288.0)" fill="url(#gb)" stroke="#2c5e7e" stroke-width="0.8"/>
<polygon points="0.0,-3.9 1.1,-1.6 3.7,-1.2 1.9,0.6 2.3,3.2 0.0,2.0 -2.3,3.2 -1.9,0.6 -3.7,-1.2 -1.1,-1.6" fill="#1f2746"/>
</g>
<ellipse cx="820.5" cy="656.4" rx="6.5" ry="9" transform="rotate(-10 820.5 656.4)" fill="url(#gbud)" stroke="#dd4f86" stroke-width="1"/>
<ellipse cx="850.2" cy="660" rx="6.5" ry="9" transform="rotate(0 850.2 660)" fill="url(#gbud)" stroke="#dd4f86" stroke-width="1"/>
<ellipse cx="804.6" cy="674.8" rx="7" ry="6" transform="rotate(-20 804.6 674.8)" fill="url(#gbud)" stroke="#dd4f86" stroke-width="1"/>
<path transform="translate(921.0,388.0) rotate(-122.9)" d="M0,0 C12.1,-5.0 30.4,-4.0 40.5,0 C30.4,4.0 12.1,5.0 0,0Z" fill="#5aa3c2" stroke="#3a7898" stroke-width="0.9"/>
<path transform="translate(925.0,392.0) rotate(-139.9)" d="M0,0 C7.5,-4.5 18.6,-3.6 24.8,0 C18.6,3.6 7.5,4.5 0,0Z" fill="#5aa3c2" stroke="#3a7898" stroke-width="0.9"/>
<path transform="translate(928.0,393.0) rotate(-97.5)" d="M0,0 C11.5,-4.5 28.7,-3.6 38.3,0 C28.7,3.6 11.5,4.5 0,0Z" fill="#5aa3c2" stroke="#3a7898" stroke-width="0.9"/>
<path transform="translate(930.0,393.0) rotate(-81.4)" d="M0,0 C10.0,-4.5 25.0,-3.6 33.4,0 C25.0,3.6 10.0,4.5 0,0Z" fill="#5aa3c2" stroke="#3a7898" stroke-width="0.9"/>
<path transform="translate(922.0,398.0) rotate(180.0)" d="M0,0 C5.4,-3.5 13.5,-2.8 18.0,0 C13.5,2.8 5.4,3.5 0,0Z" fill="#5aa3c2" stroke="#3a7898" stroke-width="0.9"/>
<path d="M935,425 C925,432 918,440 912,455" fill="none" stroke="#22445e" stroke-width="1.6" stroke-linecap="round"/>
<path transform="translate(922.0,436.0) rotate(-132.4)" d="M0,0 C9.3,-6.5 23.4,-5.2 31.1,0 C23.4,5.2 9.3,6.5 0,0Z" fill="#3d7c9c" stroke="#20405a" stroke-width="0.9"/>
<path transform="translate(918.0,444.0) rotate(-166.0)" d="M0,0 C8.7,-6.5 21.6,-5.2 28.9,0 C21.6,5.2 8.7,6.5 0,0Z" fill="#3d7c9c" stroke="#20405a" stroke-width="0.9"/>
<path transform="translate(914.0,450.0) rotate(126.9)" d="M0,0 C4.5,-6.0 11.2,-4.8 15.0,0 C11.2,4.8 4.5,6.0 0,0Z" fill="#3d7c9c" stroke="#20405a" stroke-width="0.9"/>
<path transform="translate(922.0,436.0) rotate(63.4)" d="M0,0 C5.4,-6.0 13.4,-4.8 17.9,0 C13.4,4.8 5.4,6.0 0,0Z" fill="#3d7c9c" stroke="#20405a" stroke-width="0.9"/>
<g transform="translate(947.6,407.6) rotate(5)">
<path d="M0,0 C-6.3,-6.8 -14.6,-17.0 -12.5,-27.9 C-9.8,-35.0 9.8,-35.0 12.5,-27.9 C14.6,-17.0 6.3,-6.8 0,0Z" transform="rotate(0.0)" fill="url(#gp)" stroke="#e3649a" stroke-width="1.2"/>
<path d="M0,0 C-6.3,-6.8 -14.6,-17.0 -12.5,-27.9 C-9.8,-35.0 9.8,-35.0 12.5,-27.9 C14.6,-17.0 6.3,-6.8 0,0Z" transform="rotate(72.0)" fill="url(#gp)" stroke="#e3649a" stroke-width="1.2"/>
<path d="M0,0 C-6.3,-6.8 -14.6,-17.0 -12.5,-27.9 C-9.8,-35.0 9.8,-35.0 12.5,-27.9 C14.6,-17.0 6.3,-6.8 0,0Z" transform="rotate(144.0)" fill="url(#gp)" stroke="#e3649a" stroke-width="1.2"/>
<path d="M0,0 C-6.3,-6.8 -14.6,-17.0 -12.5,-27.9 C-9.8,-35.0 9.8,-35.0 12.5,-27.9 C14.6,-17.0 6.3,-6.8 0,0Z" transform="rotate(216.0)" fill="url(#gp)" stroke="#e3649a" stroke-width="1.2"/>
<path d="M0,0 C-6.3,-6.8 -14.6,-17.0 -12.5,-27.9 C-9.8,-35.0 9.8,-35.0 12.5,-27.9 C14.6,-17.0 6.3,-6.8 0,0Z" transform="rotate(288.0)" fill="url(#gp)" stroke="#e3649a" stroke-width="1.2"/>
<polygon points="0.0,-5.8 1.7,-2.3 5.5,-1.8 2.7,0.9 3.4,4.7 0.0,2.9 -3.4,4.7 -2.7,0.9 -5.5,-1.8 -1.7,-2.3" fill="#1f2746"/>
<circle r="2.0" fill="#c9457f"/>
</g>
<path d="M954,440 C952,470 949,495 945,520" fill="none" stroke="#1f2746" stroke-width="1.2" stroke-linecap="round" stroke-linejoin="round"/>
<path d="M930,465 C936,460 944,460 950,463 C944,468 936,468 930,465Z" fill="none" stroke="#1f2746" stroke-width="1.3" stroke-linecap="round" stroke-linejoin="round"/>
<path d="M956,460 C962,461 966,466 968,470 C962,469 958,465 956,460Z" fill="none" stroke="#1f2746" stroke-width="1.3" stroke-linecap="round" stroke-linejoin="round"/>
<path d="M950,468 C946,474 946,482 948,486 C951,480 952,474 950,468Z" fill="none" stroke="#1f2746" stroke-width="1.3" stroke-linecap="round" stroke-linejoin="round"/>
<path d="M982,650 C978,630 975,600 972,573" fill="none" stroke="#2d5a78" stroke-width="1.5" stroke-linecap="round"/>
<path transform="translate(972.0,585.0) rotate(-72.9)" d="M0,0 C4.1,-3.5 10.2,-2.8 13.6,0 C10.2,2.8 4.1,3.5 0,0Z" fill="#6aaecb" stroke="#4688a8" stroke-width="0.9"/>
<path transform="translate(974.0,600.0) rotate(-123.7)" d="M0,0 C5.4,-3.5 13.5,-2.8 18.0,0 C13.5,2.8 5.4,3.5 0,0Z" fill="#6aaecb" stroke="#4688a8" stroke-width="0.9"/>
<path transform="translate(976.0,612.0) rotate(-41.2)" d="M0,0 C6.4,-3.5 15.9,-2.8 21.3,0 C15.9,2.8 6.4,3.5 0,0Z" fill="#6aaecb" stroke="#4688a8" stroke-width="0.9"/>
<path transform="translate(978.0,625.0) rotate(-132.7)" d="M0,0 C5.3,-3.5 13.3,-2.8 17.7,0 C13.3,2.8 5.3,3.5 0,0Z" fill="#6aaecb" stroke="#4688a8" stroke-width="0.9"/>
<path transform="translate(980.0,636.0) rotate(-45.0)" d="M0,0 C5.9,-3.5 14.8,-2.8 19.8,0 C14.8,2.8 5.9,3.5 0,0Z" fill="#6aaecb" stroke="#4688a8" stroke-width="0.9"/>
<path d="M1010,660 C1008,640 1006,625 1020,612" fill="none" stroke="#2d5a78" stroke-width="1.3" stroke-linecap="round"/>
<path d="M1012,660 C1020,645 1035,632 1046,625" fill="none" stroke="#2d5a78" stroke-width="1.3" stroke-linecap="round"/>
<path transform="translate(1020.0,650.0) rotate(-32.5)" d="M0,0 C7.8,-4.0 19.6,-3.2 26.1,0 C19.6,3.2 7.8,4.0 0,0Z" fill="#4f98b8" stroke="#2d617f" stroke-width="0.9"/>
<path transform="translate(1012.0,655.0) rotate(-35.8)" d="M0,0 C6.7,-3.5 16.7,-2.8 22.2,0 C16.7,2.8 6.7,3.5 0,0Z" fill="#4f98b8" stroke="#2d617f" stroke-width="0.9"/>
<path transform="translate(1030.0,638.0) rotate(-59.0)" d="M0,0 C3.5,-3.0 8.7,-2.4 11.7,0 C8.7,2.4 3.5,3.0 0,0Z" fill="#4f98b8" stroke="#2d617f" stroke-width="0.9"/>
<g transform="translate(1014.6,575.8) rotate(15)">
<path d="M0,0 C-2.3,-2.6 -5.5,-6.5 -4.7,-10.7 C-3.6,-13.4 3.6,-13.4 4.7,-10.7 C5.5,-6.5 2.3,-2.6 0,0Z" transform="rotate(0.0)" fill="url(#gb)" stroke="#2c5e7e" stroke-width="0.8"/>
<path d="M0,0 C-2.3,-2.6 -5.5,-6.5 -4.7,-10.7 C-3.6,-13.4 3.6,-13.4 4.7,-10.7 C5.5,-6.5 2.3,-2.6 0,0Z" transform="rotate(72.0)" fill="url(#gb)" stroke="#2c5e7e" stroke-width="0.8"/>
<path d="M0,0 C-2.3,-2.6 -5.5,-6.5 -4.7,-10.7 C-3.6,-13.4 3.6,-13.4 4.7,-10.7 C5.5,-6.5 2.3,-2.6 0,0Z" transform="rotate(144.0)" fill="url(#gb)" stroke="#2c5e7e" stroke-width="0.8"/>
<path d="M0,0 C-2.3,-2.6 -5.5,-6.5 -4.7,-10.7 C-3.6,-13.4 3.6,-13.4 4.7,-10.7 C5.5,-6.5 2.3,-2.6 0,0Z" transform="rotate(216.0)" fill="url(#gb)" stroke="#2c5e7e" stroke-width="0.8"/>
<path d="M0,0 C-2.3,-2.6 -5.5,-6.5 -4.7,-10.7 C-3.6,-13.4 3.6,-13.4 4.7,-10.7 C5.5,-6.5 2.3,-2.6 0,0Z" transform="rotate(288.0)" fill="url(#gb)" stroke="#2c5e7e" stroke-width="0.8"/>
<polygon points="0.0,-2.2 0.6,-0.9 2.1,-0.7 1.1,0.3 1.3,1.8 0.0,1.1 -1.3,1.8 -1.1,0.3 -2.1,-0.7 -0.6,-0.9" fill="#1f2746"/>
</g>
<path transform="translate(1019.4,614.0) rotate(-80.5)" d="M0,0 C7.3,-8.0 18.2,-6.4 24.3,0 C18.2,6.4 7.3,8.0 0,0Z" fill="#ef8fb4" stroke="#e3669a" stroke-width="0.9"/>
<path transform="translate(1019.4,614.0) rotate(-133.9)" d="M0,0 C6.7,-6.0 16.7,-4.8 22.2,0 C16.7,4.8 6.7,6.0 0,0Z" fill="#f7c9d8" stroke="#e3669a" stroke-width="0.9"/>
<path transform="translate(1019.4,614.0) rotate(-32.9)" d="M0,0 C7.7,-6.0 19.3,-4.8 25.7,0 C19.3,4.8 7.7,6.0 0,0Z" fill="#ef8fb4" stroke="#e3669a" stroke-width="0.9"/>
<path transform="translate(1019.4,614.0) rotate(-108.6)" d="M0,0 C7.0,-5.0 17.4,-4.0 23.2,0 C17.4,4.0 7.0,5.0 0,0Z" fill="#f7c9d8" stroke="#e3669a" stroke-width="0.9"/>
<path d="M1015.4,611.0 L1023.4,611.0 L1020.4,621.0Z" fill="#1f3550"/>
<ellipse cx="999.2" cy="618.9" rx="6" ry="10" transform="rotate(-20 999.2 618.9)" fill="url(#gbud)" stroke="#dd4f86" stroke-width="1"/>
<ellipse cx="1048.4" cy="617.3" rx="7" ry="10" transform="rotate(25 1048.4 617.3)" fill="url(#gbud)" stroke="#dd4f86" stroke-width="1"/>
<g transform="translate(983.0,654.9) rotate(40)">
<path d="M0,0 C-4.3,-3.8 -10.0,-9.5 -8.6,-15.6 C-6.6,-19.6 6.6,-19.6 8.6,-15.6 C10.0,-9.5 4.3,-3.8 0,0Z" transform="rotate(0.0)" fill="url(#gb)" stroke="#2c5e7e" stroke-width="0.8"/>
<path d="M0,0 C-4.3,-3.8 -10.0,-9.5 -8.6,-15.6 C-6.6,-19.6 6.6,-19.6 8.6,-15.6 C10.0,-9.5 4.3,-3.8 0,0Z" transform="rotate(90.0)" fill="url(#gb)" stroke="#2c5e7e" stroke-width="0.8"/>
<path d="M0,0 C-4.3,-3.8 -10.0,-9.5 -8.6,-15.6 C-6.6,-19.6 6.6,-19.6 8.6,-15.6 C10.0,-9.5 4.3,-3.8 0,0Z" transform="rotate(180.0)" fill="url(#gb)" stroke="#2c5e7e" stroke-width="0.8"/>
<path d="M0,0 C-4.3,-3.8 -10.0,-9.5 -8.6,-15.6 C-6.6,-19.6 6.6,-19.6 8.6,-15.6 C10.0,-9.5 4.3,-3.8 0,0Z" transform="rotate(270.0)" fill="url(#gb)" stroke="#2c5e7e" stroke-width="0.8"/>
<polygon points="0.0,-3.2 0.9,-1.3 3.1,-1.0 1.5,0.5 1.9,2.6 0.0,1.6 -1.9,2.6 -1.5,0.5 -3.1,-1.0 -0.9,-1.3" fill="#1f2746"/>
</g>
<path transform="translate(1000.0,682.0) rotate(155.8)" d="M0,0 C13.2,-3.0 32.9,-2.4 43.9,0 C32.9,2.4 13.2,3.0 0,0Z" fill="#4f98b8" stroke="#2d617f" stroke-width="0.9"/>
<path transform="translate(1000.0,682.0) rotate(135.0)" d="M0,0 C14.4,-3.0 36.1,-2.4 48.1,0 C36.1,2.4 14.4,3.0 0,0Z" fill="#4f98b8" stroke="#2d617f" stroke-width="0.9"/>
<path transform="translate(1000.0,682.0) rotate(131.0)" d="M0,0 C9.1,-3.0 22.9,-2.4 30.5,0 C22.9,2.4 9.1,3.0 0,0Z" fill="#4f98b8" stroke="#2d617f" stroke-width="0.9"/>
<path transform="translate(1000.0,682.0) rotate(111.8)" d="M0,0 C9.7,-3.0 24.2,-2.4 32.3,0 C24.2,2.4 9.7,3.0 0,0Z" fill="#4f98b8" stroke="#2d617f" stroke-width="0.9"/>
<g transform="translate(1015.9,674.7) rotate(-3)">
<path d="M0,0 C-4.9,-5.4 -11.3,-13.5 -9.7,-22.1 C-7.6,-27.8 7.6,-27.8 9.7,-22.1 C11.3,-13.5 4.9,-5.4 0,0Z" transform="rotate(0.0)" fill="url(#gpl)" stroke="#ec86ad" stroke-width="0.9"/>
<path d="M0,0 C-4.9,-5.4 -11.3,-13.5 -9.7,-22.1 C-7.6,-27.8 7.6,-27.8 9.7,-22.1 C11.3,-13.5 4.9,-5.4 0,0Z" transform="rotate(72.0)" fill="url(#gpl)" stroke="#ec86ad" stroke-width="0.9"/>
<path d="M0,0 C-4.9,-5.4 -11.3,-13.5 -9.7,-22.1 C-7.6,-27.8 7.6,-27.8 9.7,-22.1 C11.3,-13.5 4.9,-5.4 0,0Z" transform="rotate(144.0)" fill="url(#gpl)" stroke="#ec86ad" stroke-width="0.9"/>
<path d="M0,0 C-4.9,-5.4 -11.3,-13.5 -9.7,-22.1 C-7.6,-27.8 7.6,-27.8 9.7,-22.1 C11.3,-13.5 4.9,-5.4 0,0Z" transform="rotate(216.0)" fill="url(#gpl)" stroke="#ec86ad" stroke-width="0.9"/>
<path d="M0,0 C-4.9,-5.4 -11.3,-13.5 -9.7,-22.1 C-7.6,-27.8 7.6,-27.8 9.7,-22.1 C11.3,-13.5 4.9,-5.4 0,0Z" transform="rotate(288.0)" fill="url(#gpl)" stroke="#ec86ad" stroke-width="0.9"/>
<polygon points="0.0,-4.6 1.3,-1.9 4.4,-1.4 2.2,0.7 2.7,3.7 0.0,2.3 -2.7,3.7 -2.2,0.7 -4.4,-1.4 -1.3,-1.9" fill="#1f2746"/>
<circle r="1.6" fill="#c9457f"/>
</g>
<g transform="translate(1063.0,697.0) rotate(17)">
<path d="M0,0 C-5.0,-5.6 -11.8,-14.0 -10.1,-23.0 C-7.8,-28.8 7.8,-28.8 10.1,-23.0 C11.8,-14.0 5.0,-5.6 0,0Z" transform="rotate(0.0)" fill="url(#gp)" stroke="#e3649a" stroke-width="1.0"/>
<path d="M0,0 C-5.0,-5.6 -11.8,-14.0 -10.1,-23.0 C-7.8,-28.8 7.8,-28.8 10.1,-23.0 C11.8,-14.0 5.0,-5.6 0,0Z" transform="rotate(72.0)" fill="url(#gp)" stroke="#e3649a" stroke-width="1.0"/>
<path d="M0,0 C-5.0,-5.6 -11.8,-14.0 -10.1,-23.0 C-7.8,-28.8 7.8,-28.8 10.1,-23.0 C11.8,-14.0 5.0,-5.6 0,0Z" transform="rotate(144.0)" fill="url(#gp)" stroke="#e3649a" stroke-width="1.0"/>
<path d="M0,0 C-5.0,-5.6 -11.8,-14.0 -10.1,-23.0 C-7.8,-28.8 7.8,-28.8 10.1,-23.0 C11.8,-14.0 5.0,-5.6 0,0Z" transform="rotate(216.0)" fill="url(#gp)" stroke="#e3649a" stroke-width="1.0"/>
<path d="M0,0 C-5.0,-5.6 -11.8,-14.0 -10.1,-23.0 C-7.8,-28.8 7.8,-28.8 10.1,-23.0 C11.8,-14.0 5.0,-5.6 0,0Z" transform="rotate(288.0)" fill="url(#gp)" stroke="#e3649a" stroke-width="1.0"/>
<polygon points="0.0,-4.8 1.4,-1.9 4.5,-1.5 2.3,0.7 2.8,3.9 0.0,2.4 -2.8,3.9 -2.3,0.7 -4.5,-1.5 -1.4,-1.9" fill="#1f2746"/>
<circle r="1.7" fill="#c9457f"/>
</g>
</g>
</svg>
</body></html>
